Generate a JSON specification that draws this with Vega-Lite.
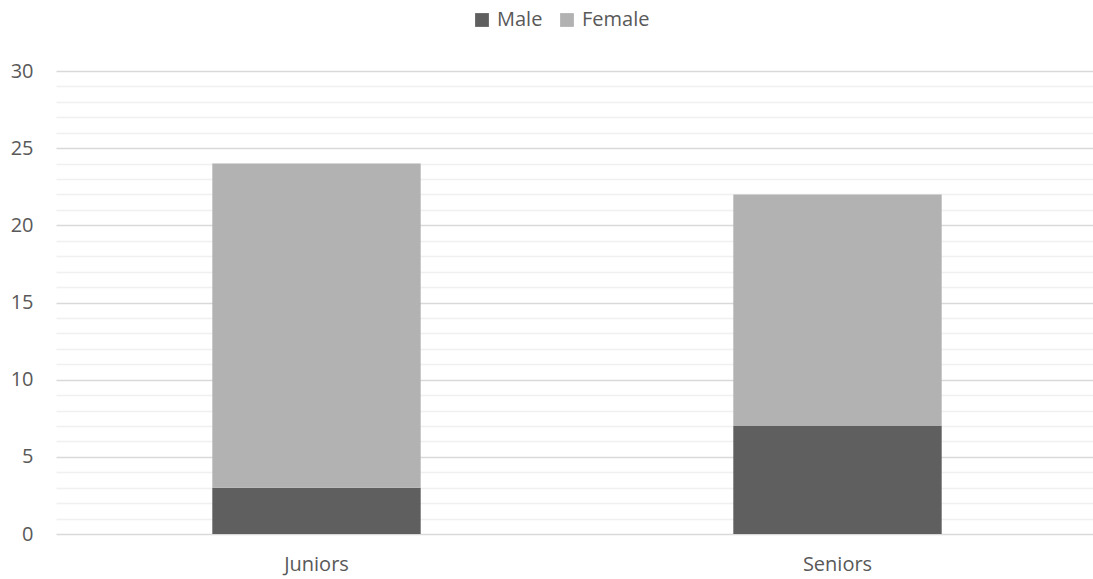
{
  "$schema": "https://vega.github.io/schema/vega-lite/v6.json",
  "width": 1037,
  "height": 463,
  "autosize": {"type": "none"},
  "padding": {"left": 56, "top": 71, "right": 0, "bottom": 45},
  "background": "white",
  "config": {
    "view": {"stroke": null},
    "font": "Open Sans",
    "text": {"font": "Open Sans"}
  },
  "data": {
    "values": [
      {"group": "Juniors", "gender": "Male", "count": 3, "ord": 1},
      {"group": "Juniors", "gender": "Female", "count": 21, "ord": 2},
      {"group": "Seniors", "gender": "Male", "count": 7, "ord": 1},
      {"group": "Seniors", "gender": "Female", "count": 15, "ord": 2}
    ]
  },
  "mark": {"type": "bar"},
  "encoding": {
    "x": {
      "field": "group",
      "type": "nominal",
      "scale": {"paddingInner": 0.6, "paddingOuter": 0.3, "range": [0, 1042]},
      "axis": {
        "title": null,
        "labelAngle": 0,
        "labelFont": "Open Sans",
        "labelFontSize": 20,
        "labelColor": "#595959",
        "labelPadding": 20,
        "ticks": false,
        "domain": false
      }
    },
    "y": {
      "field": "count",
      "type": "quantitative",
      "stack": "zero",
      "scale": {"domain": [0, 30], "nice": false},
      "axis": {
        "title": null,
        "values": [0,1,2,3,4,5,6,7,8,9,10,11,12,13,14,15,16,17,18,19,20,21,22,23,24,25,26,27,28,29,30],
        "labelExpr": "datum.value % 5 === 0 ? datum.label : ''",
        "labelFont": "Open Sans",
        "labelFontSize": 20,
        "labelColor": "#595959",
        "labelPadding": 23,
        "ticks": false,
        "domain": false,
        "grid": true,
        "gridColor": {"condition": {"test": "datum.value % 5 === 0", "value": "#d9d9d9"}, "value": "#f0f0f0"},
        "gridWidth": 1.5
      }
    },
    "color": {
      "field": "gender",
      "type": "nominal",
      "scale": {"domain": ["Male", "Female"], "range": ["#5f5f5f", "#b2b2b2"]},
      "legend": {
        "title": null,
        "orient": "none",
        "direction": "horizontal",
        "legendX": 416,
        "legendY": -61,
        "symbolType": "square",
        "symbolSize": 190,
        "symbolStrokeWidth": 0,
        "labelFont": "Open Sans",
        "labelFontSize": 20,
        "labelColor": "#595959",
        "labelOffset": 5,
        "columnPadding": 14
      }
    },
    "order": {"field": "ord", "type": "quantitative"}
  }
}
